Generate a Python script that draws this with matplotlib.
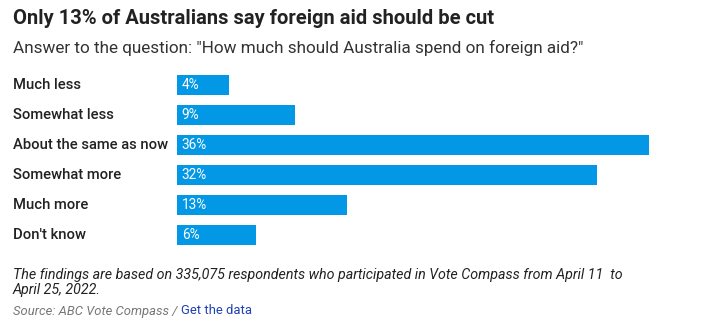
import matplotlib
matplotlib.use("Agg")
import matplotlib.pyplot as plt
from matplotlib.transforms import blended_transform_factory

categories = ["Much less", "Somewhat less", "About the same as now",
              "Somewhat more", "Much more", "Don't know"]
values = [4, 9, 36, 32, 13, 6]
value_labels = ["4%", "9%", "36%", "32%", "13%", "6%"]

title = "Only 13% of Australians say foreign aid should be cut"
subtitle = 'Answer to the question: "How much should Australia spend on foreign aid?"'
note_lines = ["The findings are based on 335,075 respondents who participated in Vote Compass from April 11  to",
              "April 25, 2022."]
source_text = "Source: ABC Vote Compass / "
data_link = "Get the data"

W, H = 704, 331
DPI = 100
BAR_COLOR = "#0398e5"
TEXT = "#222222"
FONT = "Roboto"

fig = plt.figure(figsize=(W / DPI, H / DPI), dpi=DPI)
fig.patch.set_facecolor("white")

def fx(px):
    return px / W

def fy(py):
    return 1 - py / H

# axes spanning bar area
left_px, right_px = 177, 649
top_px, bottom_px = 70, 250
ax = fig.add_axes([fx(left_px), fy(bottom_px), fx(right_px - left_px), (bottom_px - top_px) / H])
ax.set_xlim(0, 36)
ax.set_ylim(len(categories) - 0.5, -0.5)
ax.axis("off")

ypos = list(range(len(categories)))
ax.barh(ypos, values, height=0.667, color=BAR_COLOR, left=0)

trans = blended_transform_factory(fig.transFigure, ax.transData)
for i, (cat, v, lab) in enumerate(zip(categories, values, value_labels)):
    ax.text(fx(13), i, cat, transform=trans, ha="left", va="center",
            fontsize=10.6, fontweight="medium", color=TEXT, family=FONT)
    ax.annotate(lab, xy=(0, i), xytext=(3.5, 0), textcoords="offset points",
                ha="left", va="center", fontsize=9.8, color="white", family=FONT)

fig.text(fx(13), fy(18), title, ha="left", va="center", fontsize=14.5,
         fontweight="bold", color=TEXT, family=FONT)
fig.text(fx(13), fy(48), subtitle, ha="left", va="center", fontsize=12.3,
         color="#333333", family=FONT)

fig.text(fx(13), fy(275), note_lines[0], ha="left", va="center", fontsize=10.3,
         style="italic", color=TEXT, family=FONT)
fig.text(fx(13), fy(290), note_lines[1], ha="left", va="center", fontsize=10.3,
         style="italic", color=TEXT, family=FONT)

src = fig.text(fx(13), fy(311), source_text, ha="left", va="center", fontsize=9.4,
               style="italic", color="#777777", family=FONT)
fig.canvas.draw()
bb = src.get_window_extent()
fig.text(bb.x1 / W, fy(311), data_link, ha="left", va="center", fontsize=9.4,
         color="#1f3fb5", family=FONT)

fig.savefig("out.png", dpi=DPI)
